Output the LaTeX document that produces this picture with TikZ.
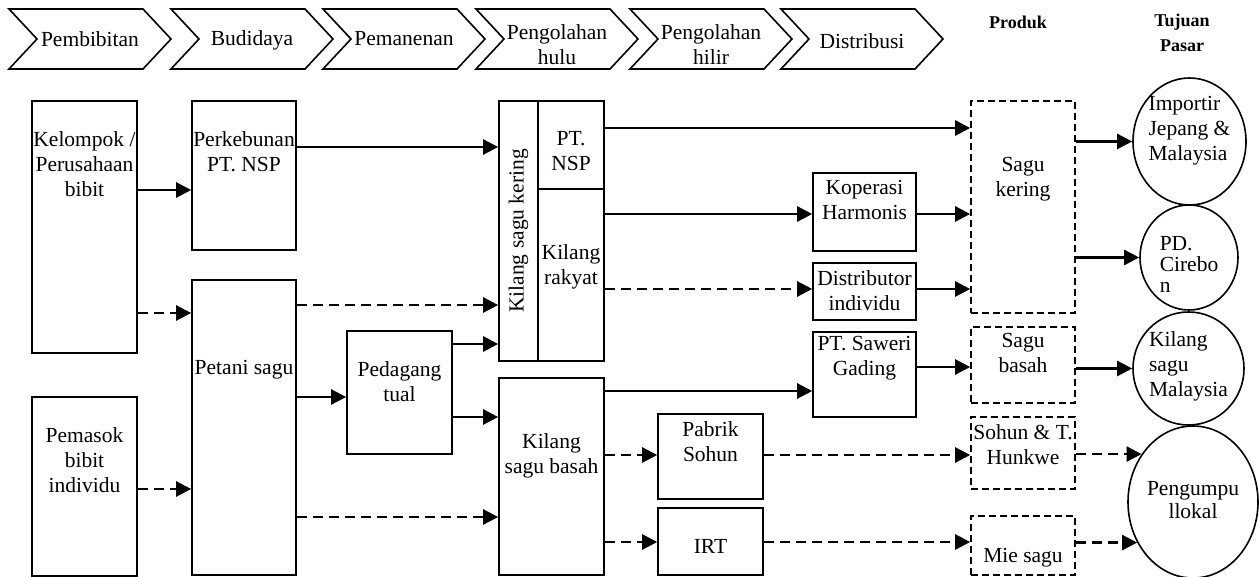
\documentclass[tikz,border=0pt]{standalone}
\usepackage{fontspec}
\setmainfont{Liberation Serif}
\usepackage{tikz}
\usetikzlibrary{
	arrows.meta,
	positioning,
	shapes,
	}

\tikzset{
	box/.style={draw, rectangle, line width=1.6pt, inner sep=0pt},
	dbox/.style={box, dash pattern=on 7pt off 4pt},
	oval/.style={draw, ellipse, line width=1.6pt, inner sep=0pt},
	txt/.style={align=center, inner sep=0pt},
	ltxt/.style={align=left, inner sep=0pt},
	head/.style={txt, font=\fontsize{18}{25}\selectfont\bfseries},
	arr/.style={line width=2.4pt, -{Triangle[length=15pt, width=15pt]}},
	darr/.style={arr, dash pattern=on 10pt off 6pt},
	chev/.style={line width=1.6pt, line join=miter},
}

\begin{document}
\begin{tikzpicture}[x=1pt, y=-1pt, font=\fontsize{21.5}{25}\selectfont]
	\useasboundingbox (0,0) rectangle (1259,577);
	% rantai pasok
	\foreach \x/\t/\n/\y in {9/Pembibitan/pembibitan/39, 171/Budidaya/budidaya/40, 323/Pemanenan/pemanenan/39, 476/{Pengolahan\\hulu}/hulu/45, 630/{Pengolahan\\hilir}/hilir/45, 781/Distribusi/distribusi/41} {
		\draw[chev] (\x,9) -- ++(134,0) -- ++(28,30) -- ++(-28,30) -- ++(-134,0) -- ++(28,-30) -- cycle;
		\node[txt] (\n) at (\x+81,\y) {\t};
	}
	\node[head] (produk) at (1018,22) {Produk};
	\node[head] (tujuan) at (1182,33) {Tujuan\\Pasar};

	% pelaku
	\node[box, minimum width=105pt, minimum height=252pt, label={[txt, below=31pt]north:{Kelompok /\\Perusahaan\\bibit}}] (kelompok) at (84.5,227) {};
	\node[box, minimum width=105pt, minimum height=179pt, label={[txt, below=31pt]north:{Pemasok\\bibit\\individu}}] (pemasok) at (84.5,486.5) {};
	\node[box, minimum width=104pt, minimum height=149pt, label={[txt, below=31pt]north:{Perkebunan\\PT. NSP}}] (perkebunan) at (244,175.5) {};
	\node[box, minimum width=104pt, minimum height=295pt, label={[txt, below=81pt]north:{Petani sagu}}] (petani) at (244,427.5) {};
	\node[box, minimum width=105pt, minimum height=123pt, label={[txt, below=31pt]north:{Pedagang\\tual}}] (pedagang) at (399.5,392.5) {};
	\node[box, minimum width=105pt, minimum height=260pt] (kering) at (551.5,231) {};
	\node[rotate=90] (keringtxt) at (518.5,231) {Kilang sagu kering};
	\node[box, minimum width=66pt, minimum height=88pt, label={[txt, below=31pt]north:{PT.\\NSP}}] (ptnsp) at (571,145) {};
	\node[box, minimum width=66pt, minimum height=172pt, label={[txt, below=56pt]north:{Kilang\\rakyat}}] (rakyat) at (571,275) {};
	\node[box, minimum width=105pt, minimum height=197pt, label={[txt, below=56pt]north:{Kilang\\sagu basah}}] (basah) at (551.5,476.5) {};
	\node[box, minimum width=105pt, minimum height=85pt, label={[txt, below=8pt]north:{Pabrik\\Sohun}}] (pabrik) at (710.5,456.5) {};
	\node[box, minimum width=105pt, minimum height=67pt, label={[txt, below=32pt]north:{IRT}}] (irt) at (710.5,541.5) {};
	\node[box, minimum width=103pt, minimum height=78pt, label={[txt, below=8pt]north:{Koperasi\\Harmonis}}] (koperasi) at (864.5,212) {};
	\node[box, minimum width=103pt, minimum height=57pt, label={[txt, below=8pt]north:{Distributor\\individu}}] (distributor) at (864.5,291.5) {};
	\node[box, minimum width=103pt, minimum height=85pt, label={[txt, below=5pt]north:{PT. Saweri\\Gading}}] (saweri) at (864.5,374.5) {};

	% produk
	\node[dbox, minimum width=104pt, minimum height=212pt, label={[txt, below=57pt]north:{Sagu\\kering}}] (sagukering) at (1023,207) {};
	\node[dbox, minimum width=104pt, minimum height=76pt, label={[txt, below=7pt]north:{Sagu\\basah}}] (sagubasah) at (1023,365) {};
	\node[dbox, minimum width=104pt, minimum height=72pt, label={[txt, below=8pt]north:{Sohun \& T.\\Hunkwe}}] (sohun) at (1023,453) {};
	\node[dbox, minimum width=104pt, minimum height=59pt, label={[txt, below=33pt]north:{Mie sagu}}] (miesagu) at (1023,545.5) {};

	% pasar
	\node[oval, minimum width=113pt, minimum height=127pt, label={[ltxt, below=19pt]north:{Importir\\Jepang \&\\Malaysia}}] (importir) at (1189.5,141.5) {};
	\node[oval, minimum width=98pt, minimum height=105pt, label={[ltxt, below=32pt]north:{PD.\\[-4pt]Cirebo\\[-4pt]n}}] (pd) at (1189,257.5) {};
	\node[oval, minimum width=111pt, minimum height=113pt, label={[ltxt, below=20pt]north:{Kilang\\sagu\\Malaysia}}] (kilangmy) at (1188.5,368.5) {};
	\node[oval, minimum width=130pt, minimum height=152pt, label={[txt, below=56pt]north:{Pengumpu\\[-2pt]llokal}}] (pengumpul) at (1193,502) {};

	% aliran
	\draw[arr] (kelompok.east |- 0,190) -- (perkebunan.west |- 0,190);
	\draw[darr] (kelompok.east |- 0,313) -- (petani.west |- 0,313);
	\draw[darr] (pemasok.east |- 0,489) -- (petani.west |- 0,489);
	\draw[arr] (perkebunan.east |- 0,147) -- (kering.west |- 0,147);
	\draw[darr] (petani.east |- 0,305) -- (kering.west |- 0,305);
	\draw[arr] (petani.east |- 0,397) -- (pedagang.west |- 0,397);
	\draw[darr] (petani.east |- 0,517) -- (basah.west |- 0,517);
	\draw[arr] (pedagang.east |- 0,344) -- (kering.west |- 0,344);
	\draw[arr] (pedagang.east |- 0,417) -- (basah.west |- 0,417);
	\draw[arr] (ptnsp.east |- 0,128) -- (sagukering.west |- 0,128);
	\draw[arr] (rakyat.east |- 0,214) -- (koperasi.west |- 0,214);
	\draw[darr] (rakyat.east |- 0,289) -- (distributor.west |- 0,289);
	\draw[arr] (koperasi.east |- 0,214) -- (sagukering.west |- 0,214);
	\draw[arr] (distributor.east |- 0,289) -- (sagukering.west |- 0,289);
	\draw[arr] (basah.east |- 0,391) -- (saweri.west |- 0,391);
	\draw[darr] (basah.east |- 0,455) -- (pabrik.west |- 0,455);
	\draw[darr] (basah.east |- 0,542) -- (irt.west |- 0,542);
	\draw[arr] (saweri.east |- 0,367) -- (sagubasah.west |- 0,367);
	\draw[darr] (pabrik.east |- 0,455) -- (sohun.west |- 0,455);
	\draw[darr] (irt.east |- 0,542) -- (miesagu.west |- 0,542);
	\draw[arr] (sagukering.east |- importir) -- (importir);
	\draw[arr] (sagukering.east |- pd) -- (pd);
	\draw[arr] (sagubasah.east |- kilangmy) -- (kilangmy);
	\draw[darr] (sohun.east |- pengumpul.137) -- (pengumpul.137);
	\draw[darr] (miesagu.east |- pengumpul.216) -- (pengumpul.216);
\end{tikzpicture}
\end{document}
